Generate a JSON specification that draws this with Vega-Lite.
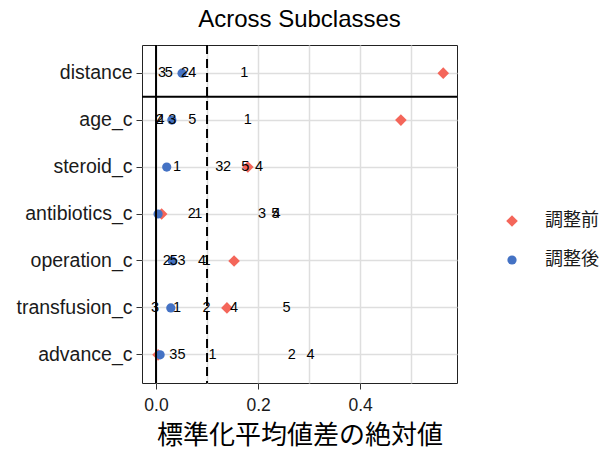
{
  "$schema": "https://vega.github.io/schema/vega-lite/v6.json",
  "width": 315,
  "height": 338,
  "padding": {"left": 16, "top": 8, "right": 5, "bottom": 4},
  "background": "white",
  "title": {"text": "Across Subclasses", "font": "Liberation Sans", "fontSize": 24, "fontWeight": "normal", "anchor": "middle", "offset": 12, "color": "black"},
  "config": {
    "view": {"stroke": "#222", "strokeWidth": 1},
    "axis": {"labelFont": "Liberation Sans", "titleFont": "Noto Sans CJK JP"}
  },
  "datasets": {
    "pts": [
      {"var": "distance", "group": "調整前", "smd": 0.563},
      {"var": "distance", "group": "調整後", "smd": 0.051},
      {"var": "age_c", "group": "調整前", "smd": 0.48},
      {"var": "age_c", "group": "調整後", "smd": 0.031},
      {"var": "steroid_c", "group": "調整前", "smd": 0.18},
      {"var": "steroid_c", "group": "調整後", "smd": 0.021},
      {"var": "antibiotics_c", "group": "調整前", "smd": 0.011},
      {"var": "antibiotics_c", "group": "調整後", "smd": 0.004},
      {"var": "operation_c", "group": "調整前", "smd": 0.153},
      {"var": "operation_c", "group": "調整後", "smd": 0.032},
      {"var": "transfusion_c", "group": "調整前", "smd": 0.139},
      {"var": "transfusion_c", "group": "調整後", "smd": 0.029},
      {"var": "advance_c", "group": "調整前", "smd": 0.004},
      {"var": "advance_c", "group": "調整後", "smd": 0.008}
    ],
    "subs": [
      {"var": "distance", "sub": "1", "smd": 0.173},
      {"var": "distance", "sub": "2", "smd": 0.057},
      {"var": "distance", "sub": "3", "smd": 0.012},
      {"var": "distance", "sub": "4", "smd": 0.071},
      {"var": "distance", "sub": "5", "smd": 0.025},
      {"var": "age_c", "sub": "1", "smd": 0.18},
      {"var": "age_c", "sub": "2", "smd": 0.007},
      {"var": "age_c", "sub": "3", "smd": 0.032},
      {"var": "age_c", "sub": "4", "smd": 0.009},
      {"var": "age_c", "sub": "5", "smd": 0.071},
      {"var": "steroid_c", "sub": "1", "smd": 0.041},
      {"var": "steroid_c", "sub": "2", "smd": 0.139},
      {"var": "steroid_c", "sub": "3", "smd": 0.124},
      {"var": "steroid_c", "sub": "4", "smd": 0.202},
      {"var": "steroid_c", "sub": "5", "smd": 0.175},
      {"var": "antibiotics_c", "sub": "1", "smd": 0.083},
      {"var": "antibiotics_c", "sub": "2", "smd": 0.07},
      {"var": "antibiotics_c", "sub": "3", "smd": 0.208},
      {"var": "antibiotics_c", "sub": "4", "smd": 0.236},
      {"var": "antibiotics_c", "sub": "5", "smd": 0.234},
      {"var": "operation_c", "sub": "1", "smd": 0.099},
      {"var": "operation_c", "sub": "2", "smd": 0.021},
      {"var": "operation_c", "sub": "3", "smd": 0.05},
      {"var": "operation_c", "sub": "4", "smd": 0.09},
      {"var": "operation_c", "sub": "5", "smd": 0.035},
      {"var": "transfusion_c", "sub": "1", "smd": 0.041},
      {"var": "transfusion_c", "sub": "2", "smd": 0.099},
      {"var": "transfusion_c", "sub": "3", "smd": -0.002},
      {"var": "transfusion_c", "sub": "4", "smd": 0.153},
      {"var": "transfusion_c", "sub": "5", "smd": 0.256},
      {"var": "advance_c", "sub": "1", "smd": 0.111},
      {"var": "advance_c", "sub": "2", "smd": 0.266},
      {"var": "advance_c", "sub": "3", "smd": 0.034},
      {"var": "advance_c", "sub": "4", "smd": 0.303},
      {"var": "advance_c", "sub": "5", "smd": 0.05}
    ]
  },
  "layer": [
    {
      "data": {"name": "pts"},
      "mark": {"type": "point", "filled": true, "opacity": 1},
      "encoding": {
        "y": {
          "field": "var",
          "type": "nominal",
          "sort": ["distance", "age_c", "steroid_c", "antibiotics_c", "operation_c", "transfusion_c", "advance_c"],
          "scale": {"domain": ["distance", "age_c", "steroid_c", "antibiotics_c", "operation_c", "transfusion_c", "advance_c"], "paddingInner": 0, "paddingOuter": 0.1},
          "axis": {
            "title": null, "domain": false, "grid": true, "gridColor": "#dedede", "gridWidth": 1.5,
            "labelFontSize": 19.5, "labelColor": "#1a1a1a", "labelPadding": 4,
            "ticks": true, "tickColor": "#333", "tickSize": 6
          }
        },
        "x": {
          "field": "smd", "type": "quantitative",
          "scale": {"domain": [-0.0275, 0.59], "nice": false, "zero": false},
          "axis": {
            "title": "標準化平均値差の絶対値", "titleFontSize": 26, "titleFontWeight": "normal", "titleColor": "black", "titlePadding": 9,
            "values": [0, 0.1, 0.2, 0.3, 0.4, 0.5],
            "labelExpr": "round(datum.value*10) % 2 == 1 ? '' : format(datum.value, '.1f')",
            "labelFontSize": 17.5, "labelColor": "#1a1a1a", "labelPadding": 7,
            "domain": false, "grid": true, "gridColor": "#dedede", "gridWidth": 1.5,
            "tickColor": "#333", "tickSize": 6,
            "tickOpacity": {"condition": {"test": "round(datum.value*10) % 2 == 1", "value": 0}, "value": 1}
          }
        },
        "color": {
          "field": "group", "type": "nominal",
          "scale": {"domain": ["調整前", "調整後"], "range": ["#F4665A", "#4472C4"]},
          "legend": {"title": null, "orient": "none", "legendX": 361, "legendY": 167, "labelFont": "Noto Sans CJK JP", "labelFontSize": 18, "labelColor": "#1a1a1a", "symbolSize": 120, "rowPadding": 21, "labelOffset": 24}
        },
        "shape": {
          "field": "group", "type": "nominal",
          "scale": {"domain": ["調整前", "調整後"], "range": ["diamond", "circle"]},
          "legend": {"title": null}
        },
        "size": {
          "field": "group", "type": "nominal",
          "scale": {"domain": ["調整前", "調整後"], "range": [135, 85]},
          "legend": null
        }
      }
    },
    {
      "data": {"name": "subs"},
      "mark": {"type": "text", "font": "Liberation Sans", "fontSize": 14.5, "color": "black", "baseline": "middle", "align": "center"},
      "encoding": {
        "y": {"field": "var", "type": "nominal", "sort": ["distance", "age_c", "steroid_c", "antibiotics_c", "operation_c", "transfusion_c", "advance_c"]},
        "x": {"field": "smd", "type": "quantitative"},
        "text": {"field": "sub"}
      }
    },
    {
      "data": {"values": [{}]},
      "mark": {"type": "rule", "color": "black", "strokeWidth": 2},
      "encoding": {"x": {"datum": 0}}
    },
    {
      "data": {"values": [{}]},
      "mark": {"type": "rule", "color": "black", "strokeWidth": 2, "strokeDash": [9, 5]},
      "encoding": {"x": {"datum": 0.1}}
    },
    {
      "data": {"values": [{}]},
      "mark": {"type": "rule", "color": "black", "strokeWidth": 2},
      "encoding": {"y": {"datum": "distance", "type": "nominal", "bandPosition": 1}}
    }
  ]
}
